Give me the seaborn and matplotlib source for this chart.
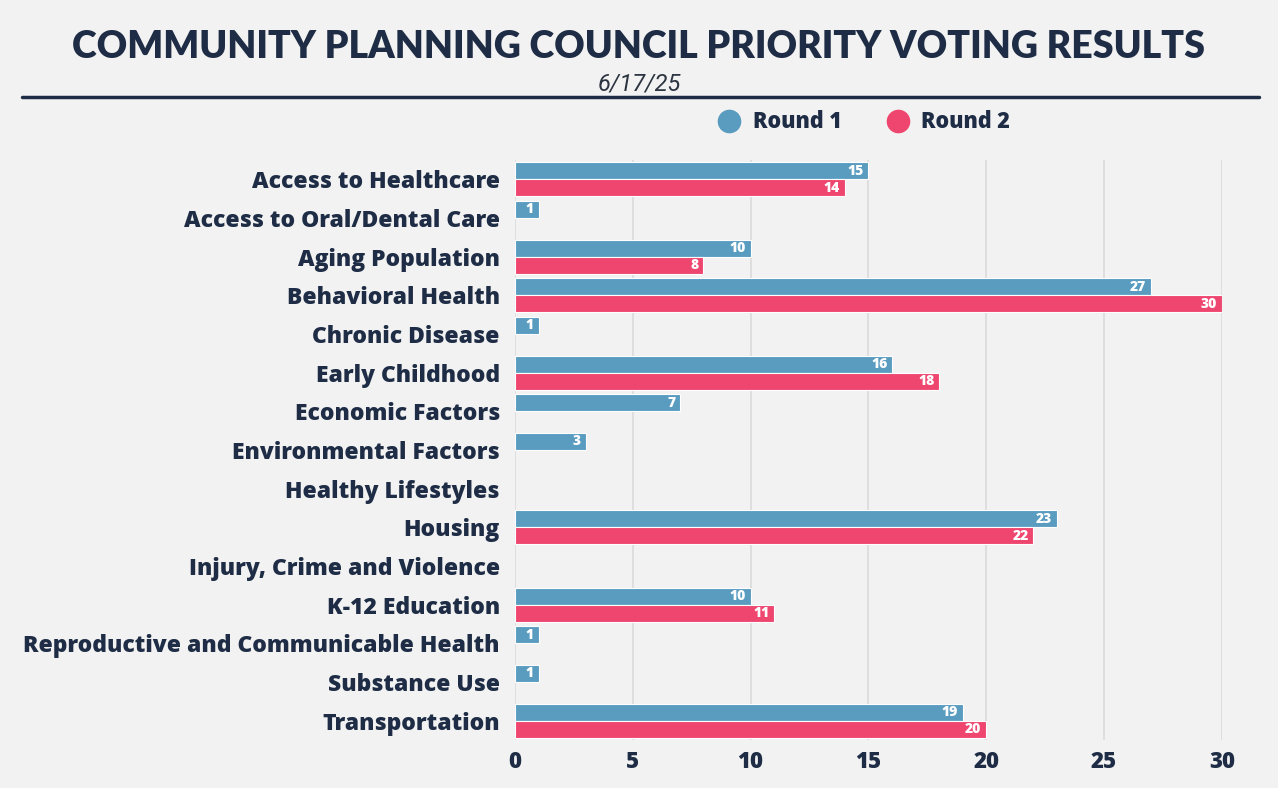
import numpy as np
import pandas as pd
import matplotlib
matplotlib.use("Agg")
import matplotlib.pyplot as plt
import seaborn as sns
from matplotlib.lines import Line2D

categories = [
    "Access to Healthcare", "Access to Oral/Dental Care", "Aging Population",
    "Behavioral Health", "Chronic Disease", "Early Childhood", "Economic Factors",
    "Environmental Factors", "Healthy Lifestyles", "Housing",
    "Injury, Crime and Violence", "K-12 Education",
    "Reproductive and Communicable Health", "Substance Use", "Transportation",
]
round1 = [15, 1, 10, 27, 1, 16, 7, 3, None, 23, None, 10, 1, 1, 19]
round2 = [14, None, 8, 30, None, 18, None, None, None, 22, None, 11, None, None, 20]
series_names = ["Round 1", "Round 2"]
x_ticks = [0, 5, 10, 15, 20, 25, 30]
title = "COMMUNITY PLANNING COUNCIL PRIORITY VOTING RESULTS"
subtitle = "6/17/25"

colors = {"Round 1": "#599cc0", "Round 2": "#ef4670"}
navy = "#1e2d45"
bg = "#f2f2f2"
label_font = ["Open Sans", "DejaVu Sans"]

rows = []
for c, a, b in zip(categories, round1, round2):
    rows.append({"cat": c, "round": series_names[0], "val": np.nan if a is None else a})
    rows.append({"cat": c, "round": series_names[1], "val": np.nan if b is None else b})
df = pd.DataFrame(rows)

sns.set_theme(style="white")
plt.rcParams["font.family"] = label_font

fig = plt.figure(figsize=(12.78, 7.88), dpi=100)
fig.patch.set_facecolor(bg)
ax = fig.add_axes([0.403, 0.061, 0.553, 0.736])
ax.set_facecolor(bg)

sns.barplot(data=df, y="cat", x="val", hue="round", order=categories,
            hue_order=series_names, palette=colors, orient="h", width=0.88,
            saturation=1, edgecolor="white", linewidth=0.8, legend=False,
            ax=ax, errorbar=None)

ax.set_xlim(0, 30)
ax.set_xticks(x_ticks)
ax.set_xticklabels([str(t) for t in x_ticks], fontsize=16, fontweight="heavy", color=navy)
ax.set_yticklabels(categories, fontsize=16.5, fontweight="heavy", color=navy)
ax.tick_params(axis="y", length=0, pad=11)
ax.tick_params(axis="x", length=0, pad=7)
ax.set_xlabel("")
ax.set_ylabel("")
ax.grid(axis="x", color="#dcdcdc", linewidth=1.3)
ax.set_axisbelow(True)
for s in ax.spines.values():
    s.set_visible(False)

for cont in ax.containers:
    for bar in cont:
        w = bar.get_width()
        if np.isnan(w) or w <= 0:
            continue
        ax.text(w - 0.2, bar.get_y() + bar.get_height() / 2, f"{int(w)}",
                ha="right", va="center", color="white", fontsize=10, fontweight="heavy")

fig.text(0.5, 0.940, title, ha="center", va="center", fontsize=27,
         fontweight="heavy", color=navy, family=["Lato", "DejaVu Sans"])
fig.text(0.5, 0.894, subtitle, ha="center", va="center", fontsize=17,
         fontstyle="italic", fontweight="normal", color="#2b3440",
         family=["Roboto", "DejaVu Sans"])
fig.add_artist(plt.Line2D([0.017, 0.985], [0.877, 0.877], color=navy, linewidth=2.5,
                          transform=fig.transFigure))

handles = [Line2D([0], [0], marker="o", linestyle="", markersize=16,
                  markerfacecolor=colors[n], markeredgecolor=colors[n]) for n in series_names]
leg = fig.legend(handles, series_names, loc="center", bbox_to_anchor=(0.672, 0.845),
                 ncol=2, frameon=False, handletextpad=0.1, columnspacing=1.6,
                 prop={"size": 15.5, "weight": "heavy", "family": label_font})
for t in leg.get_texts():
    t.set_color(navy)

fig.savefig("out.png", dpi=100, facecolor=bg)
